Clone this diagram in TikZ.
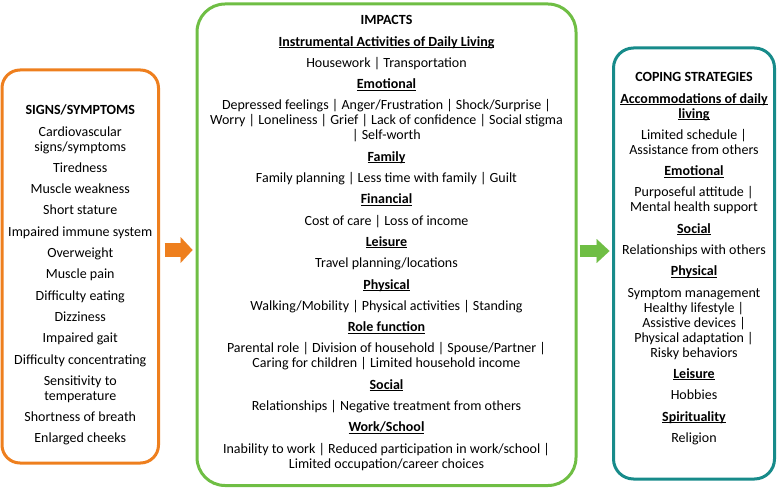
\documentclass[tikz,border=0pt]{standalone}
\usepackage{fontspec}
\setmainfont{Carlito}
\usetikzlibrary{arrows.meta}
\definecolor{orng}{RGB}{238,127,30}
\definecolor{grn}{RGB}{111,190,68}
\definecolor{tealc}{RGB}{23,139,138}
\newsavebox\hdbox
\newcommand{\hd}[1]{\sbox\hdbox{\textbf{#1}}\rlap{\rule[-1.8pt]{\wd\hdbox}{0.9pt}}\usebox\hdbox}
\newcommand{\gp}{\\[6.3pt]}
\newcommand{\tp}{\rule{0pt}{11pt}}
\begin{document}
\begin{tikzpicture}[x=1pt,y=-1pt,
  panel/.style={draw=#1, line width=3pt, inner sep=0pt},
  txt/.style={align=center, inner sep=0pt, anchor=north, font=\fontsize{14}{15}\selectfont},
  bigarrow/.style={draw=#1, line width=14pt, -{Triangle[length=12pt,width=26pt,line width=0.01pt]}}]
\useasboundingbox (0,0) rectangle (778,489);
\node[panel=orng, rounded corners=18pt, minimum width=156.5pt, minimum height=393pt] (signs) at (80.25,266.5) {};
\node[panel=grn, rounded corners=28pt, minimum width=379pt, minimum height=481.5pt] (impacts) at (386.5,244.75) {};
\node[panel=tealc, rounded corners=20pt, minimum width=161pt, minimum height=431pt] (coping) at (694,263.5) {};
\node[txt] (signstext) at (80.25,103.5) {\tp\textbf{SIGNS/SYMPTOMS}\gp
Cardiovascular\\signs/symptoms\gp
Tiredness\gp
Muscle weakness\gp
Short stature\gp
Impaired immune system\gp
Overweight\gp
Muscle pain\gp
Difficulty eating\gp
Dizziness\gp
Impaired gait\gp
Difficulty concentrating\gp
Sensitivity to\\temperature\gp
Shortness of breath\gp
Enlarged cheeks};
\node[txt] (impactstext) at (386.5,13.5) {\tp\textbf{IMPACTS}\gp
\hd{Instrumental Activities of Daily Living}\gp
Housework | Transportation\gp
\hd{Emotional}\gp
Depressed feelings | Anger/Frustration | Shock/Surprise |\\
Worry | Loneliness | Grief | Lack of confidence | Social stigma\\
| Self-worth\gp
\hd{Family}\gp
Family planning | Less time with family | Guilt\gp
\hd{Financial}\gp
Cost of care | Loss of income\gp
\hd{Leisure}\gp
Travel planning/locations\gp
\hd{Physical}\gp
Walking/Mobility | Physical activities | Standing\gp
\hd{Role function}\gp
Parental role | Division of household | Spouse/Partner |\\
Caring for children | Limited household income\gp
\hd{Social}\gp
Relationships | Negative treatment from others\gp
\hd{Work/School}\gp
Inability to work | Reduced participation in work/school |\\
Limited occupation/career choices};
\node[txt] (copingtext) at (694,70.5) {\tp\textbf{COPING STRATEGIES}\gp
\hd{Accommodations of daily}\\\hd{living}\gp
Limited schedule |\\Assistance from others\gp
\hd{Emotional}\gp
Purposeful attitude |\\Mental health support\gp
\hd{Social}\gp
Relationships with others\gp
\hd{Physical}\gp
Symptom management\\Healthy lifestyle |\\Assistive devices |\\Physical adaptation |\\Risky behaviors\gp
\hd{Leisure}\gp
Hobbies\gp
\hd{Spirituality}\gp
Religion};
\draw[bigarrow=orng, shorten <=4.5pt, shorten >=3pt] (signs.east |- 0,250) -- (impacts.west |- 0,250);
\draw[bigarrow=grn, line width=12pt, -{Triangle[length=13pt,width=24pt,line width=0.01pt]}, shorten <=2pt, shorten >=2.5pt] (impacts.east |- 0,251) -- (coping.west |- 0,251);
\end{tikzpicture}
\end{document}
